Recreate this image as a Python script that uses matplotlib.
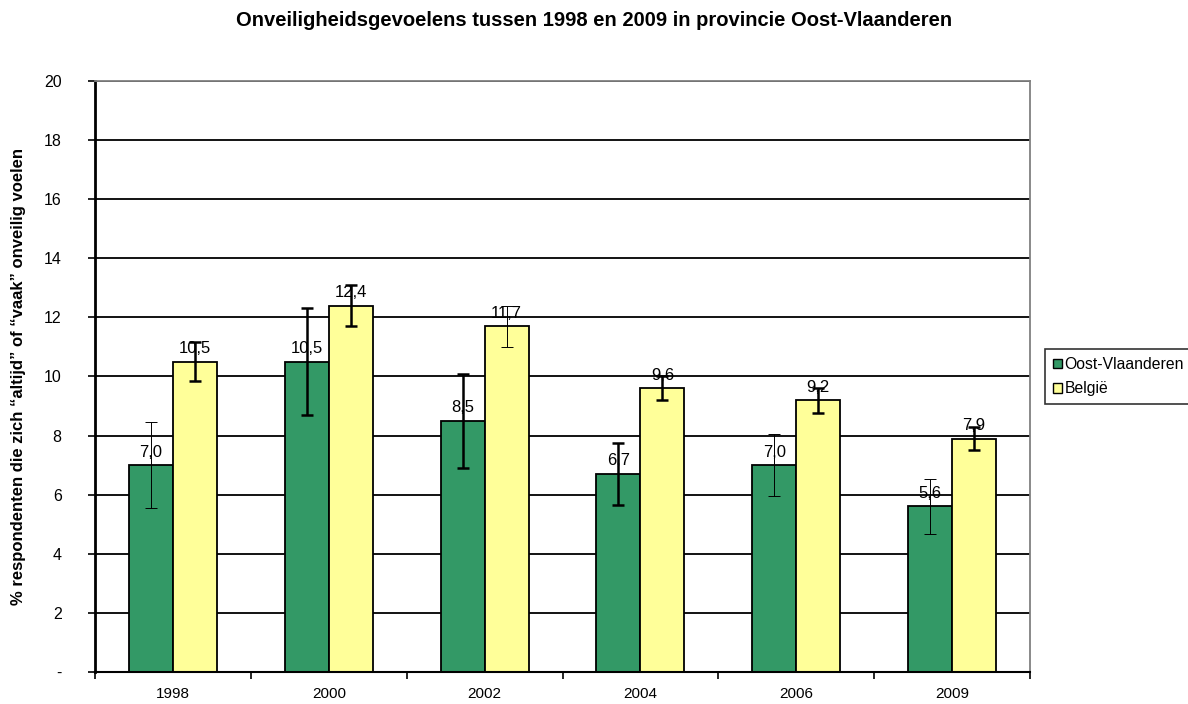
import numpy as np
import matplotlib
matplotlib.use('Agg')
import matplotlib.pyplot as plt
from matplotlib.patches import Patch

years = ['1998', '2000', '2002', '2004', '2006', '2009']
oost_vl = [7.0, 10.5, 8.5, 6.7, 7.0, 5.6]
belgie = [10.5, 12.4, 11.7, 9.6, 9.2, 7.9]
oost_vl_err = [1.45, 1.8, 1.6, 1.05, 1.05, 0.93]
belgie_err = [0.65, 0.7, 0.7, 0.4, 0.42, 0.4]
oost_vl_err_lw = [0.7, 1.8, 1.8, 1.8, 0.7, 0.7]
belgie_err_lw = [1.8, 1.8, 0.7, 1.8, 1.8, 1.8]

plt.rcParams['font.family'] = ['Liberation Sans', 'DejaVu Sans']

fig = plt.figure(figsize=(11.88, 7.04), dpi=100)
ax = fig.add_axes([0.080, 0.0455, 0.787, 0.8395])

x = np.arange(len(years))
w = 0.282
green = '#339966'
yellow = '#FFFF99'

ax.set_axisbelow(True)
ax.yaxis.grid(True, color='black', linewidth=1.3)
b1 = ax.bar(x - w / 2, oost_vl, w, color=green, edgecolor='black', linewidth=1.3, zorder=2)
b2 = ax.bar(x + w / 2, belgie, w, color=yellow, edgecolor='black', linewidth=1.3, zorder=2)

for i in range(len(years)):
    ax.errorbar(x[i] - w / 2, oost_vl[i], yerr=oost_vl_err[i], fmt='none', ecolor='black',
                elinewidth=oost_vl_err_lw[i], capsize=4, capthick=oost_vl_err_lw[i], zorder=4)
    ax.errorbar(x[i] + w / 2, belgie[i], yerr=belgie_err[i], fmt='none', ecolor='black',
                elinewidth=belgie_err_lw[i], capsize=4, capthick=belgie_err_lw[i], zorder=4)

for bars, vals in ((b1, oost_vl), (b2, belgie)):
    for rect, v in zip(bars, vals):
        ax.annotate(f'{v:.1f}'.replace('.', ','), (rect.get_x() + rect.get_width() / 2, v),
                    xytext=(0, 4), textcoords='offset points', ha='center', va='bottom',
                    fontsize=12, zorder=5)

ax.set_xlim(-0.5, len(years) - 0.5)
ax.set_ylim(0, 20)
ax.set_yticks(np.arange(0, 21, 2))
ax.set_yticklabels(['-'] + [str(v) for v in range(2, 21, 2)], fontsize=11.5)
ax.set_xticks(x)
ax.set_xticklabels(years, fontsize=11)
ax.set_xticks(np.arange(-0.5, len(years), 1), minor=True)
ax.tick_params(axis='x', which='major', length=0, pad=11)
ax.tick_params(axis='x', which='minor', length=5, width=1.2, direction='out')
ax.tick_params(axis='y', length=5, width=1.2, direction='out', pad=19)

ax.spines['left'].set_linewidth(2)
ax.spines['left'].set_color('black')
ax.spines['bottom'].set_linewidth(1.5)
ax.spines['bottom'].set_color('black')
for s in ('top', 'right'):
    ax.spines[s].set_color('#808080')
    ax.spines[s].set_linewidth(1.3)

ax.set_ylabel('% respondenten die zich \u201caltijd\u201d of \u201cvaak\u201d onveilig voelen',
              fontsize=12, fontweight='bold', labelpad=13)

fig.suptitle('Onveiligheidsgevoelens tussen 1998 en 2009 in provincie Oost-Vlaanderen',
             fontsize=14.5, fontweight='bold', y=0.985)

handles = [Patch(facecolor=green, edgecolor='black', label='Oost-Vlaanderen'),
           Patch(facecolor=yellow, edgecolor='black', label='België')]
leg = fig.legend(handles=handles, loc='center left', bbox_to_anchor=(0.880, 0.465),
                 fontsize=11.3, frameon=True, fancybox=False, edgecolor='black',
                 handlelength=0.55, handleheight=0.55, handletextpad=0.15, borderpad=0.5,
                 borderaxespad=0, labelspacing=0.6)
leg.get_frame().set_linewidth(1.2)

fig.savefig('out.png', dpi=100)
